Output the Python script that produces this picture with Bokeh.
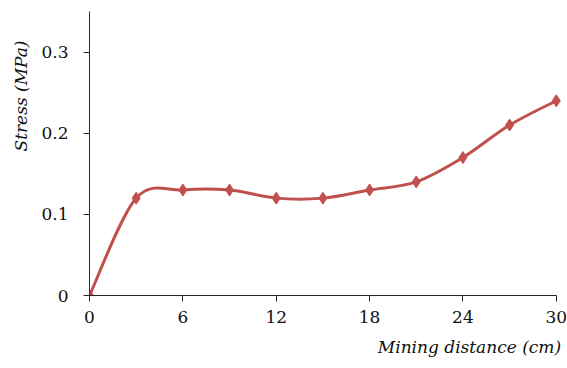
import numpy as np
from bokeh.plotting import figure
from bokeh.models import Range1d, FixedTicker, Title
from bokeh.embed import file_html
from bokeh.resources import INLINE

# ---- data ----
distance = [0, 3, 6, 9, 12, 15, 18, 21, 24, 27, 30]
stress = [0.0, 0.12, 0.13, 0.13, 0.12, 0.12, 0.13, 0.14, 0.17, 0.21, 0.24]
x_ticks = [0, 6, 12, 18, 24, 30]
y_ticks = [0, 0.1, 0.2, 0.3]
y_tick_labels = ["0", "0.1", "0.2", "0.3"]
x_title = "Mining distance  (cm)"
y_title = "Stress (MPa)"

RED = "#C0504D"
FONT = "DejaVu Serif"

# smoothed-line bezier control points (Excel-style) derived from data
x = np.array(distance, dtype=float)
y = np.array(stress, dtype=float)
n = len(x)
xp = np.concatenate([[x[0]], x, [x[-1]]])
yp = np.concatenate([[y[0]], y, [y[-1]]])
cx0 = x[:-1] + (xp[2:n + 1] - xp[0:n - 1]) / 6.0
cy0 = y[:-1] + (yp[2:n + 1] - yp[0:n - 1]) / 6.0
cx1 = x[1:] - (xp[3:n + 2] - xp[1:n]) / 6.0
cy1 = y[1:] - (yp[3:n + 2] - yp[1:n]) / 6.0

p = figure(width=567, height=368, output_backend="svg", toolbar_location=None,
           x_range=Range1d(0, 30.4), y_range=Range1d(0, 0.35),
           min_border_left=88, min_border_right=5, min_border_top=11, min_border_bottom=73)
p.outline_line_color = None
p.xgrid.visible = False
p.ygrid.visible = False
p.background_fill_color = "white"
p.border_fill_color = "white"

p.bezier(x0=x[:-1], y0=y[:-1], x1=x[1:], y1=y[1:], cx0=cx0, cy0=cy0, cx1=cx1, cy1=cy1,
         line_color=RED, line_width=3)
p.scatter(distance, stress, marker="diamond", size=12, fill_color=RED, line_color=RED)

for ax in (p.xaxis[0], p.yaxis[0]):
    ax.axis_line_color = "#262626"
    ax.axis_line_width = 1
    ax.major_tick_line_color = "#262626"
    ax.major_tick_out = 6
    ax.major_tick_in = 0
    ax.minor_tick_out = 0
    ax.minor_tick_in = 0
    ax.major_label_text_font = FONT
    ax.major_label_text_font_size = "17px"
    ax.major_label_text_color = "#111111"

p.xaxis.ticker = FixedTicker(ticks=x_ticks)
p.xaxis.bounds = (0, 30)
p.xaxis.major_label_standoff = 9
p.yaxis.ticker = FixedTicker(ticks=y_ticks)
p.yaxis.major_label_overrides = {t: s for t, s in zip(y_ticks, y_tick_labels)}
p.yaxis.major_label_standoff = 15

xt = Title(text=x_title, align="right", text_font=FONT, text_font_size="17px",
           text_font_style="italic", text_color="#111111", standoff=18, offset=-4)
p.add_layout(xt, "below")
yt = Title(text=y_title, align="right", text_font=FONT, text_font_size="17px",
           text_font_style="italic", text_color="#111111", offset=29, standoff=16)
p.add_layout(yt, "left")

open("out.html", "w").write(file_html(p, INLINE))
